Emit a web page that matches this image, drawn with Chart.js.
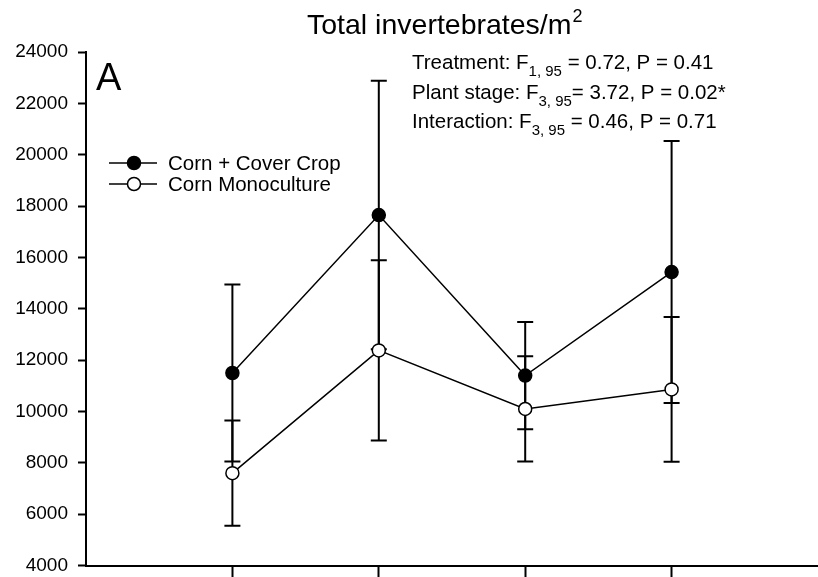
<!DOCTYPE html>
<html lang="en">
<head>
<meta charset="UTF-8">
<title>Total invertebrates/m2</title>
<script src="https://cdn.jsdelivr.net/npm/chart.js"></script>
<style>
    html, body { margin: 0; padding: 0; background: #fff; overflow: hidden; }
    #chart { display: block; }
</style>
</head>
<body>
<!-- a little taller than the window: the stage labels are cut off in the original too -->
<canvas id="chart" width="818" height="587"></canvas>
<script>
    // plant stages (x positions), labels are cut off in the original figure
    const stages = [1, 2, 3, 4];
    const coverMean = [11500, 17650, 11400, 15430];
    const coverSE = [3450, 5230, 2090, 5100];
    const monoMean = [7600, 12380, 10100, 10860];
    const monoSE = [2050, 3510, 2050, 2820];
    const seriesNames = ['Corn + Cover Crop', 'Corn Monoculture'];
    const yMin = 4000, yMax = 24000, yStep = 2000;
    const titleText = 'Total invertebrates/m';
    const panelLetter = 'A';
    const stats = [
        ['Treatment: F', '1, 95', ' = 0.72, P = 0.41'],
        ['Plant stage: F', '3, 95', '= 3.72, P = 0.02*'],
        ['Interaction: F', '3, 95', ' = 0.46, P = 0.71']
    ];

    const FONT = '"Liberation Sans", Arial, sans-serif';

    const errorBars = {
        id: 'errorBars',
        beforeDatasetsDraw(chart) {
            const { ctx, scales: { x, y } } = chart;
            ctx.save();
            ctx.strokeStyle = '#000';
            ctx.lineWidth = 2;
            chart.data.datasets.forEach(ds => {
                ds.data.forEach((p, i) => {
                    const px = x.getPixelForValue(p.x);
                    const top = y.getPixelForValue(p.y + ds.se[i]);
                    const bot = y.getPixelForValue(p.y - ds.se[i]);
                    ctx.beginPath();
                    ctx.moveTo(px, top); ctx.lineTo(px, bot);
                    ctx.moveTo(px - 8, top); ctx.lineTo(px + 8, top);
                    ctx.moveTo(px - 8, bot); ctx.lineTo(px + 8, bot);
                    ctx.stroke();
                });
            });
            ctx.restore();
        }
    };

    const annotations = {
        id: 'annotations',
        afterDraw(chart) {
            const ctx = chart.ctx;
            ctx.save();
            ctx.fillStyle = '#000';
            ctx.textAlign = 'left';
            ctx.textBaseline = 'alphabetic';

            // title with superscript
            ctx.font = '28.5px ' + FONT;
            ctx.fillText(titleText, 307, 34);
            const tw = ctx.measureText(titleText).width;
            ctx.font = '18px ' + FONT;
            ctx.fillText('2', 307 + tw + 1, 22);

            // panel letter
            ctx.font = '38px ' + FONT;
            ctx.fillText(panelLetter, 96, 90);

            // statistics with subscripts
            stats.forEach((parts, i) => {
                const base = 69 + i * 29.5;
                let xx = 412;
                ctx.font = '20.5px ' + FONT;
                ctx.fillText(parts[0], xx, base);
                xx += ctx.measureText(parts[0]).width;
                ctx.font = '15px ' + FONT;
                ctx.fillText(parts[1], xx, base + 7);
                xx += ctx.measureText(parts[1]).width;
                ctx.font = '20.5px ' + FONT;
                ctx.fillText(parts[2], xx, base);
            });

            // legend: line with marker in the middle
            chart.data.datasets.forEach((ds, i) => {
                const ly = 163 + i * 21;
                ctx.strokeStyle = '#000';
                ctx.lineWidth = 1.5;
                ctx.beginPath();
                ctx.moveTo(109, ly); ctx.lineTo(157, ly);
                ctx.stroke();
                ctx.beginPath();
                ctx.arc(134, ly, 6.5, 0, Math.PI * 2);
                ctx.fillStyle = ds.pointBackgroundColor;
                ctx.fill();
                ctx.stroke();
                ctx.fillStyle = '#000';
                ctx.font = '20.5px ' + FONT;
                ctx.textBaseline = 'middle';
                ctx.fillText(ds.label, 168, ly + 1);
                ctx.textBaseline = 'alphabetic';
            });
            ctx.restore();
        }
    };

    const ctx = document.getElementById('chart').getContext('2d');
    new Chart(ctx, {
        type: 'line',
        data: {
            datasets: [
                {
                    label: seriesNames[0],
                    data: stages.map((s, i) => ({ x: s, y: coverMean[i] })),
                    se: coverSE,
                    borderColor: '#000',
                    borderWidth: 1.5,
                    pointBackgroundColor: '#000',
                    pointBorderColor: '#000',
                    pointBorderWidth: 1.5,
                    pointRadius: 6.5,
                    tension: 0
                },
                {
                    label: seriesNames[1],
                    data: stages.map((s, i) => ({ x: s, y: monoMean[i] })),
                    se: monoSE,
                    borderColor: '#000',
                    borderWidth: 1.5,
                    pointBackgroundColor: '#fff',
                    pointBorderColor: '#000',
                    pointBorderWidth: 1.5,
                    pointRadius: 6.5,
                    tension: 0
                }
            ]
        },
        options: {
            responsive: false,
            animation: false,
            layout: { autoPadding: false, padding: { top: 52, right: 0, bottom: 0, left: 0 } },
            plugins: {
                legend: { display: false },
                tooltip: { enabled: false },
                title: { display: false }
            },
            scales: {
                x: {
                    type: 'linear',
                    min: 0,
                    max: stages.length + 1,
                    afterBuildTicks: scale => { scale.ticks = stages.map(v => ({ value: v })); },
                    afterFit: scale => { scale.height = 12; },
                    grid: { drawOnChartArea: false, tickLength: 12, tickColor: '#000', tickWidth: 2 },
                    border: { color: '#000', width: 2 },
                    ticks: { display: false }
                },
                y: {
                    min: yMin,
                    max: yMax,
                    ticks: {
                        stepSize: yStep,
                        color: '#000',
                        font: { family: FONT, size: 19 },
                        padding: 10,
                        callback: v => String(v)
                    },
                    grid: { drawOnChartArea: false, tickLength: 8, tickColor: '#000', tickWidth: 2 },
                    border: { color: '#000', width: 2 },
                    afterFit: scale => { scale.width = 86; }
                }
            }
        },
        plugins: [errorBars, annotations]
    });
</script>
</body>
</html>
